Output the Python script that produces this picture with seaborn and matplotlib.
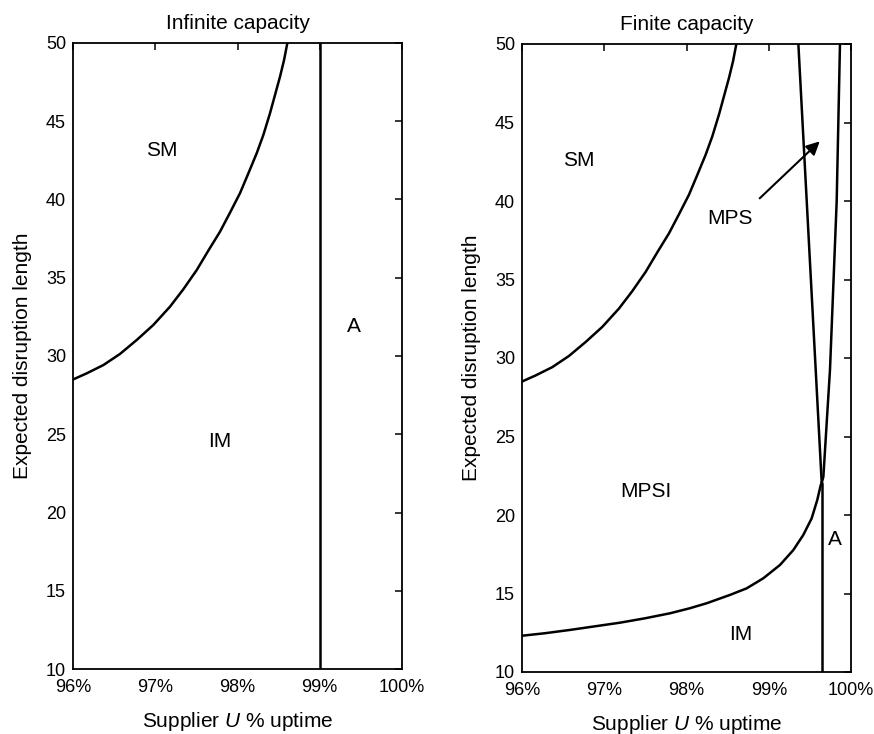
import matplotlib
matplotlib.use("Agg")
import matplotlib.pyplot as plt
import seaborn as sns
import pandas as pd

# ---- boundary data: supplier uptime (%) vs expected disruption length ----
# single-sourcing (SM) boundary, identical in both capacity cases
sm_uptime = [96.0, 96.166, 96.369, 96.571, 96.774, 96.976, 97.179, 97.341, 97.504,
             97.645, 97.787, 97.909, 98.03, 98.132, 98.233, 98.314, 98.395, 98.456,
             98.517, 98.566, 98.606]
sm_length = [28.5, 28.89, 29.42, 30.13, 31.02, 31.98, 33.15, 34.26, 35.49,
             36.73, 37.94, 39.16, 40.40, 41.67, 42.95, 44.12, 45.51, 46.68,
             47.85, 48.91, 50.0]

# infinite capacity: acceptance (A) boundary
inf_a_uptime = [99.0, 99.0]
inf_a_length = [10.0, 50.0]

# finite capacity: MPSI / IM boundary
mpsi_uptime = [96.0, 96.28, 96.584, 97.19, 97.495, 97.80, 98.04, 98.246, 98.529, 98.732,
               98.934, 99.137, 99.299, 99.42, 99.522, 99.59, 99.632, 99.644]
mpsi_length = [12.31, 12.47, 12.68, 13.14, 13.42, 13.74, 14.06, 14.38, 14.91, 15.33,
               15.97, 16.82, 17.77, 18.73, 19.79, 20.96, 21.91, 22.04]

# finite capacity: the two edges of the MPS wedge
mps_left_uptime = [99.36, 99.644]
mps_left_length = [50.0, 22.04]
mps_right_uptime = [99.644, 99.664, 99.745, 99.826, 99.866]
mps_right_length = [22.04, 22.44, 29.3, 40.0, 50.0]

# finite capacity: A / IM boundary
fin_a_uptime = [99.644, 99.644]
fin_a_length = [10.0, 22.04]

x_ticks = [96, 97, 98, 99, 100]
x_tick_labels = ["96%", "97%", "98%", "99%", "100%"]
y_ticks = [10, 15, 20, 25, 30, 35, 40, 45, 50]

inf_labels = [("SM", 97.08, 43.16), ("IM", 97.79, 24.52), ("A", 99.41, 31.87)]
fin_labels = [("SM", 96.69, 42.55), ("MPS", 98.53, 38.9), ("MPSI", 97.50, 21.49),
              ("IM", 98.66, 12.36), ("A", 99.80, 18.41)]
mps_arrow_tail = (98.89, 40.17)
mps_arrow_head = (99.62, 43.8)

sns.set_theme(style="white")
plt.rcParams["font.family"] = ["Liberation Sans", "DejaVu Sans"]
plt.rcParams["mathtext.fontset"] = "custom"
plt.rcParams["mathtext.rm"] = "Liberation Sans"
plt.rcParams["mathtext.it"] = "Liberation Sans:italic"
for key in ["text.color", "axes.labelcolor", "xtick.color", "ytick.color", "axes.edgecolor"]:
    plt.rcParams[key] = "black"

fig = plt.figure(figsize=(8.74, 7.34), dpi=100)
ax_inf = fig.add_axes([73 / 874, 1 - 669 / 734, 329 / 874, 626 / 734])
ax_fin = fig.add_axes([522 / 874, 1 - 672 / 734, 329 / 874, 628 / 734])

LW = 1.8


def boundary(ax, xs, ys):
    df = pd.DataFrame({"uptime": xs, "length": ys})
    sns.lineplot(data=df, x="uptime", y="length", sort=False, estimator=None,
                 color="black", lw=LW, ax=ax)


def style_axes(ax, title):
    ax.set_xlim(96, 100)
    ax.set_ylim(10, 50)
    ax.set_xticks(x_ticks)
    ax.set_xticklabels(x_tick_labels)
    ax.set_yticks(y_ticks)
    ax.tick_params(direction="in", top=True, right=True, length=5, width=1.1,
                   labelsize=13, colors="black", pad=5)
    ax.tick_params(axis="x", pad=7)
    for s in ax.spines.values():
        s.set_linewidth(1.3)
        s.set_color("black")
    ax.set_title(title, fontsize=15, pad=10, color="black")
    ax.set_xlabel(r"Supplier $\mathit{U}$ % uptime", fontsize=15, labelpad=10)
    ax.set_ylabel("Expected disruption length", fontsize=15, labelpad=10)


# infinite capacity panel
boundary(ax_inf, sm_uptime, sm_length)
boundary(ax_inf, inf_a_uptime, inf_a_length)
for txt, x, y in inf_labels:
    ax_inf.text(x, y, txt, fontsize=15, ha="center", va="center", color="black")
style_axes(ax_inf, "Infinite capacity")

# finite capacity panel
boundary(ax_fin, sm_uptime, sm_length)
boundary(ax_fin, mpsi_uptime, mpsi_length)
boundary(ax_fin, mps_left_uptime, mps_left_length)
boundary(ax_fin, mps_right_uptime, mps_right_length)
boundary(ax_fin, fin_a_uptime, fin_a_length)
for txt, x, y in fin_labels:
    ax_fin.text(x, y, txt, fontsize=15, ha="center", va="center", color="black")
ax_fin.annotate("", xy=mps_arrow_head, xytext=mps_arrow_tail,
                arrowprops=dict(arrowstyle="-|>", mutation_scale=20, lw=1.5,
                                color="black", shrinkA=0, shrinkB=0))
style_axes(ax_fin, "Finite capacity")

fig.savefig("out.png", dpi=100, facecolor="white")
